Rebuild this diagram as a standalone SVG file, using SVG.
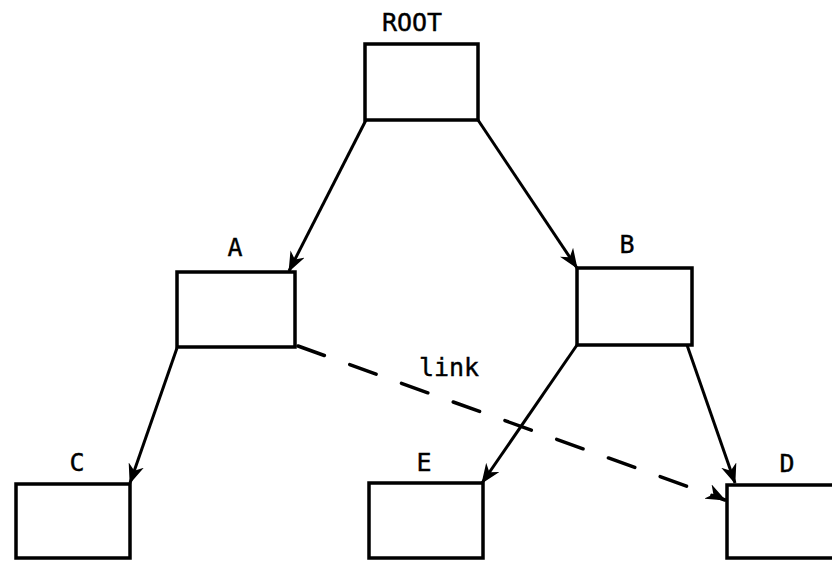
<svg xmlns="http://www.w3.org/2000/svg" width="832" height="562" viewBox="0 0 832 562">
<style>
.box{fill:#fff;stroke:#000;stroke-width:3.5;stroke-linejoin:miter}
.lbl{font-family:"DejaVu Sans Mono","Liberation Mono",monospace;font-size:25px;fill:#000;stroke:#000;stroke-width:0.4;text-anchor:middle}
.edge{stroke:#000;stroke-width:3;fill:none}
.dash{stroke-dasharray:28 27;stroke-width:3.5;stroke-linecap:round}
</style>
<defs>
<marker id="arr" viewBox="0 0 20 16" refX="19" refY="8" markerWidth="20" markerHeight="16" markerUnits="userSpaceOnUse" orient="auto">
<path d="M0,0 L20,8 L0,16 L6,8 Z" fill="#000"/>
</marker>
</defs>
<rect width="832" height="562" fill="#fff"/>
<g id="edges">
<line class="edge" x1="366" y1="120" x2="289" y2="271" marker-end="url(#arr)"/>
<line class="edge" x1="478" y1="120" x2="577" y2="268" marker-end="url(#arr)"/>
<line class="edge" x1="177" y1="348" x2="130" y2="483" marker-end="url(#arr)"/>
<line class="edge" x1="577" y1="345" x2="482" y2="483" marker-end="url(#arr)"/>
<line class="edge" x1="687" y1="345" x2="735" y2="483" marker-end="url(#arr)"/>
<line class="edge dash" x1="298" y1="346" x2="725" y2="500"/>
<line class="edge" x1="723" y1="499" x2="725" y2="500" marker-end="url(#arr)"/>
<text class="lbl" x="449" y="376">link</text>
</g>
<g id="root"><rect class="box" x="365" y="44" width="113" height="76"/><text class="lbl" x="412" y="31">ROOT</text></g>
<g id="A"><rect class="box" x="177" y="272" width="118" height="75"/><text class="lbl" x="235" y="256">A</text></g>
<g id="B"><rect class="box" x="577" y="268" width="115" height="77"/><text class="lbl" x="627" y="253">B</text></g>
<g id="C"><rect class="box" x="16" y="484" width="114" height="74"/><text class="lbl" x="77" y="471">C</text></g>
<g id="E"><rect class="box" x="369" y="483" width="114" height="75"/><text class="lbl" x="424" y="471">E</text></g>
<g id="D"><rect class="box" x="727" y="485" width="115" height="73"/><text class="lbl" x="787" y="472">D</text></g>
</svg>
